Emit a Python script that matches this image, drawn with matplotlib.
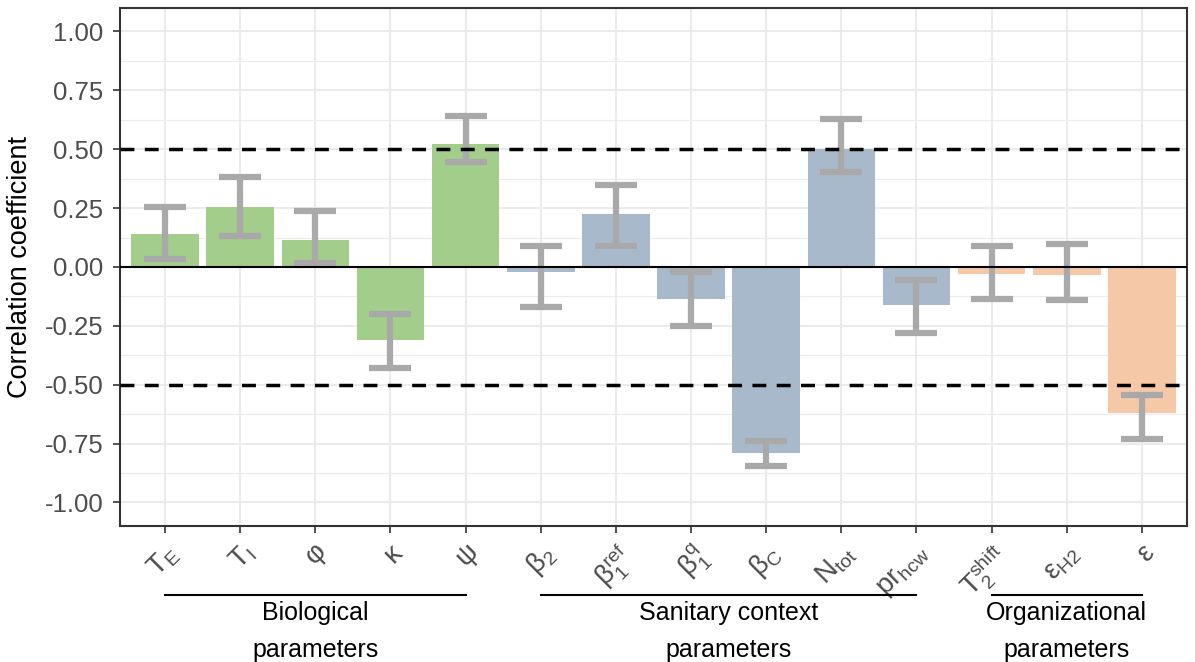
import matplotlib
matplotlib.use("Agg")
import matplotlib.pyplot as plt
import matplotlib.transforms as mtransforms
import numpy as np

plt.rcParams['font.family'] = ['Liberation Sans', 'DejaVu Sans']
plt.rcParams['mathtext.fontset'] = 'dejavusans'

labels = [r'$\mathregular{T_E}$', r'$\mathregular{T_I}$', r'$\mathregular{\varphi}$', r'$\mathregular{\kappa}$',
          r'$\mathregular{\psi}$', r'$\mathregular{\beta_2}$', r'$\mathregular{\beta_1^{ref}}$',
          r'$\mathregular{\beta_1^{q}}$', r'$\mathregular{\beta_C}$', r'$\mathregular{N_{tot}}$',
          r'$\mathregular{pr_{hcw}}$', r'$\mathregular{T_2^{shift}}$', r'$\mathregular{\varepsilon_{H2}}$',
          r'$\mathregular{\varepsilon}$']
groups = ['bio'] * 5 + ['san'] * 6 + ['org'] * 3
corr = [0.142, 0.253, 0.113, -0.308, 0.524, -0.02, 0.227, -0.134, -0.788, 0.503, -0.16, -0.028, -0.036, -0.622]
err_hi = [0.253, 0.38, 0.236, -0.198, 0.64, 0.087, 0.35, -0.02, -0.741, 0.63, -0.057, 0.087, 0.096, -0.545]
err_lo = [0.032, 0.13, 0.015, -0.427, 0.444, -0.168, 0.09, -0.25, -0.847, 0.405, -0.282, -0.134, -0.142, -0.732]

group_names = ['Biological\nparameters', 'Sanitary context\nparameters', 'Organizational\nparameters']
group_keys = ['bio', 'san', 'org']
colors = {'bio': '#a3cd8a', 'san': '#a8b9cb', 'org': '#f5c8a8'}

fig = plt.figure(figsize=(11.95, 6.62), dpi=100)
ax = fig.add_axes([0.1004, 0.2054, 0.8929, 0.7826])

x = np.arange(1, len(corr) + 1)
ax.bar(x, corr, width=0.9, color=[colors[g] for g in groups], zorder=2)
ax.errorbar(x, corr, yerr=[np.array(corr) - np.array(err_lo), np.array(err_hi) - np.array(corr)],
            fmt='none', ecolor='#a9a9a9', elinewidth=4.5, capsize=15, capthick=4.5, zorder=3)
ax.axhline(0, color='black', lw=1.5, zorder=4)
ax.axhline(0.5, color='black', lw=2.5, ls=(0, (4, 3)), zorder=4)
ax.axhline(-0.5, color='black', lw=2.5, ls=(0, (4, 3)), zorder=4)

ax.set_yticks(np.arange(-1, 1.01, 0.25))
ax.set_yticks(np.arange(-0.875, 0.9, 0.25), minor=True)
ax.set_xticks(x)
ax.set_xlim(0.4, 14.6)
ax.set_ylim(-1.1, 1.1)
ax.set_xticklabels(labels, rotation=45, ha='right', va='top', rotation_mode='anchor', fontsize=20)
ax.set_yticklabels(['%.2f' % v for v in np.arange(-1, 1.01, 0.25)], fontsize=18.5, color='#4d4d4d')
ax.tick_params(axis='y', which='minor', length=0)
ax.tick_params(axis='both', which='major', length=5, color='#333333', width=1.2)
ax.tick_params(axis='x', pad=5, colors='#333333', labelcolor='#4d4d4d')
ax.tick_params(axis='y', pad=7)
ax.grid(True, which='major', color='#ebebeb', lw=1.5, zorder=0)
ax.grid(True, which='minor', axis='y', color='#ebebeb', lw=0.8, zorder=0)
ax.set_axisbelow(True)
for s in ax.spines.values():
    s.set_color('#333333')
    s.set_linewidth(1.5)
ax.set_ylabel('Correlation coefficient', fontsize=19.5, labelpad=8)

trans = mtransforms.blended_transform_factory(ax.transData, ax.transAxes)
for key, name in zip(group_keys, group_names):
    idx = [i + 1 for i, g in enumerate(groups) if g == key]
    ax.plot([idx[0], idx[-1]], [-0.133, -0.133], color='black', lw=1.5, transform=trans, clip_on=False)
    ax.text((idx[0] + idx[-1]) / 2, -0.145, name, transform=trans, ha='center', va='top',
            fontsize=18, linespacing=1.7)

fig.savefig('out.png', dpi=100)
